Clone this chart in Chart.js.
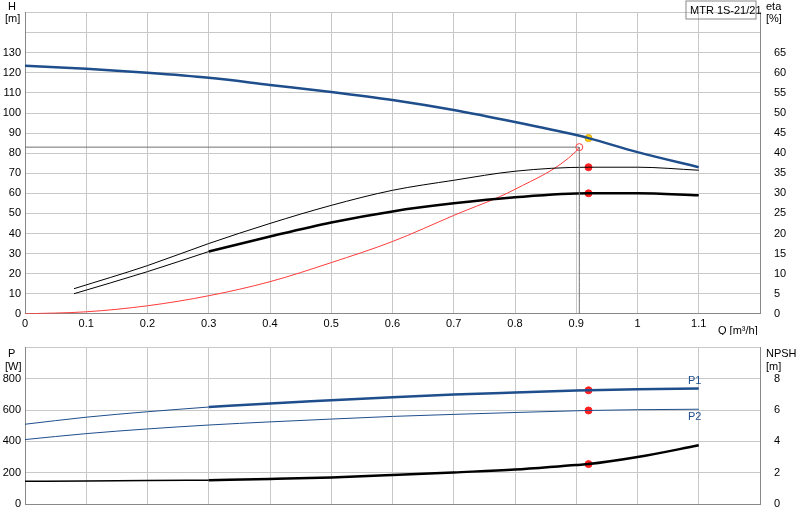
<!DOCTYPE html><html><head><script src="https://cdn.jsdelivr.net/npm/chart.js"></script>
<style>body{margin:0;background:#fff}#c1{position:absolute;left:0;top:0}#c2{position:absolute;left:0;top:335px}</style></head><body>
<canvas id="c1" width="800" height="335"></canvas>
<canvas id="c2" width="800" height="185"></canvas>
<script>
const Q=[0,0.1,0.2,0.3,0.4,0.5,0.6,0.7,0.8,0.9,0.92,1.0,1.1];
const H=[123.5,122,120,117.5,114,110.5,106.5,101.5,95.5,89,87.5,80.5,73];
const etaQ=[0.08,0.2,0.3,0.4,0.5,0.6,0.7,0.8,0.92,1.0,1.1];
const etaUpper=[6.25,12,17.5,22.5,27,30.75,33.25,35.5,36.5,36.5,35.75];
const etaLower=[5,10.5,15.5,19.25,22.75,25.5,27.5,29,30,30,29.5];
const redQ=[0,0.1,0.2,0.3,0.4,0.5,0.6,0.7,0.8,0.9,0.905];
const redH=[0,1,4,9,16,25.5,36,49,62,81,83];
const P1=[510,555,590,620,643,663,683,700,713,725,727,733,738];
const P2=[412,450,480,505,525,543,560,573,585,596,598,603,606];
const NPSH=[1.45,1.47,1.5,1.52,1.6,1.7,1.85,2.02,2.2,2.5,2.55,3.0,3.75];
const dutyQ=0.92, opQ=0.905, opH=83;
const pts=(xs,ys)=>xs.map((x,i)=>({x,y:ys[i]}));
const from=(xs,ys,q)=>pts(xs,ys).filter(p=>p.x>=q-1e-9);
const upto=(xs,ys,q)=>pts(xs,ys).filter(p=>p.x<=q+1e-9);
const at=(xs,ys,q)=>ys[xs.indexOf(q)];
Chart.defaults.font.family='Liberation Sans, Arial';Chart.defaults.font.size=11;Chart.defaults.color='#000';
const line=(data,color,w,axis,t)=>({data,showLine:true,borderColor:color,borderWidth:w,pointRadius:0,tension:t===undefined?0.4:t,cubicInterpolationMode:'monotone',yAxisID:axis||'y',fill:false});
const dot=(x,y,c,axis,b)=>({data:[{x,y}],pointRadius:3.5,pointBackgroundColor:c,pointBorderColor:b||c,showLine:false,yAxisID:axis||'y'});
const grid={color:'#c8c8c8',lineWidth:1,drawTicks:false};
const xScale=(show)=>({type:'linear',min:0,max:1.2,ticks:{stepSize:0.1,autoSkip:false,maxRotation:0,display:show,padding:4,callback:v=>v>1.15?'':(Math.round(v*10)/10).toString()},grid,border:{color:'#888'}});
const fixW=(w)=>function(s){s.width=w};
const textPlug=(items)=>({id:'t',afterDraw(c){const x=c.ctx;x.save();x.font='11px Liberation Sans, Arial';x.fillStyle='#000';items(c,x);x.restore();}});
const opts=(pad,y,y2,showX)=>({responsive:false,animation:false,layout:{padding:pad},plugins:{legend:{display:false},tooltip:{enabled:false}},
 scales:{x:xScale(showX),
 y:{min:0,max:y[0],afterFit:fixW(25),ticks:{stepSize:y[1],autoSkip:false,padding:4,callback:v=>v>y[2]?'':v},grid,border:{color:'#888'}},
 y2:{position:'right',min:0,max:y2[0],afterFit:fixW(40),ticks:{stepSize:y2[1],autoSkip:false,padding:6,callback:v=>v>y2[2]?'':v},grid:{display:false},border:{color:'#888'}}}});
new Chart(document.getElementById('c1'),{type:'scatter',data:{datasets:[
 line([{x:0,y:opH},{x:opQ,y:opH},{x:opQ,y:0}],'#707070',1,'y',0),
 line(pts(Q,H),'#1f4e8c',2.5),
 line(pts(etaQ,etaUpper),'#000',1,'y2'),
 line(upto(etaQ,etaLower,0.3),'#000',1,'y2'),
 line(from(etaQ,etaLower,0.3),'#000',2.5,'y2'),
 line(pts(redQ,redH),'#ff3b3b',1),
 dot(opQ,opH,'#fff','y','#ff3b3b'),
 dot(dutyQ,at(Q,H,dutyQ),'#ffd700','y','#e0a000'),
 dot(dutyQ,at(etaQ,etaUpper,dutyQ),'#ff2020','y2'),
 dot(dutyQ,at(etaQ,etaLower,dutyQ),'#ff2020','y2')]},
options:opts({top:2,bottom:0},[150,10,130],[75,5,65],true),
plugins:[textPlug((c,x)=>{x.fillText('H',8,10);x.fillText('[m]',5,22);x.fillText('eta',766,10);x.fillText('[%]',766,22);
 x.fillText('Q [m³/h]',718,334);x.strokeStyle='#888';x.strokeRect(686,1,70,18);x.fillText('MTR 1S-21/21',690,14);})]});
new Chart(document.getElementById('c2'),{type:'scatter',data:{datasets:[
 line(upto(Q,P1,0.3),'#1f4e8c',1),line(from(Q,P1,0.3),'#1f4e8c',2.5),
 line(pts(Q,P2),'#1f4e8c',1),
 line(upto(Q,NPSH,0.3),'#000',1.5,'y2'),line(from(Q,NPSH,0.3),'#000',2.5,'y2'),
 dot(dutyQ,at(Q,P1,dutyQ),'#ff2020'),dot(dutyQ,at(Q,P2,dutyQ),'#ff2020'),dot(dutyQ,at(Q,NPSH,dutyQ),'#ff2020','y2')]},
options:opts({top:9,bottom:16},[1000,200,800],[10,2,8],false),
plugins:[textPlug((c,x)=>{x.fillText('P',8,22);x.fillText('[W]',5,35);x.fillText('NPSH',766,22);x.fillText('[m]',766,35);
 x.fillStyle='#1f4e8c';x.fillText('P1',688,49);x.fillText('P2',688,85);})]});
</script></body></html>
